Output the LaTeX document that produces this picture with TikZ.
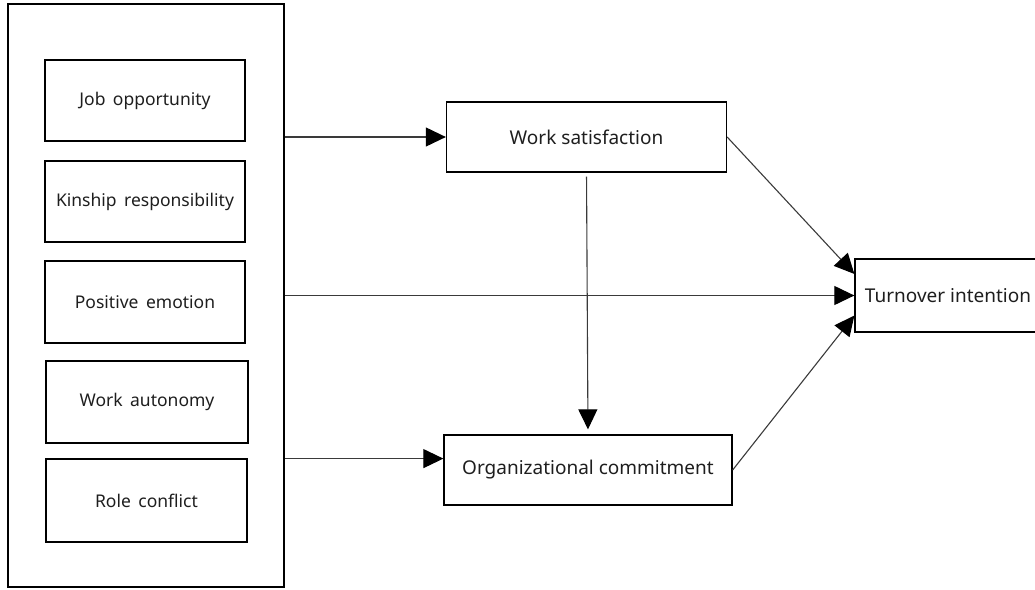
\documentclass[tikz,border=0pt]{standalone}
\usepackage{fontspec}
\setmainfont{Noto Sans}
\usetikzlibrary{arrows.meta,calc}
\definecolor{linegray}{HTML}{3A3A3A}
\definecolor{txt}{HTML}{1E1E1E}
\tikzset{
  box/.style={draw=black, line width=1.3pt, inner sep=0pt, text=txt},
  leftbox/.style={box, font=\fontsize{17.5}{20}\selectfont},
  rightbox/.style={box, font=\fontsize{19}{22}\selectfont},
  arr/.style={draw=linegray, line width=1.1pt, -{Triangle[length=20pt,width=19pt,color=black,fill=black]}},
  ln/.style={draw=linegray, line width=1.1pt}
}
\begin{document}
\begin{tikzpicture}[x=1pt,y=-1pt]
\useasboundingbox (0,0) rectangle (1035,589);
\node[box, minimum width=276pt, minimum height=583pt] (outer) at (146,295.5) {};
\node[leftbox, minimum width=200pt, minimum height=81pt] (job) at (145,100.5) {Job\, opportunity};
\node[leftbox, minimum width=200pt, minimum height=81pt] (kin) at (145,201.5) {Kinship\, responsibility};
\node[leftbox, minimum width=200pt, minimum height=82pt] (pos) at (145,302) {Positive\, emotion};
\node[leftbox, minimum width=202pt, minimum height=82pt] (aut) at (147,402) {Work\, autonomy};
\node[leftbox, minimum width=201pt, minimum height=83pt] (role) at (146.5,500.5) {Role\, conflict};
\node[rightbox, minimum width=280pt, minimum height=70pt] (ws) at (586.5,137) {Work satisfaction};
\node[rightbox, minimum width=288pt, minimum height=70pt] (oc) at (588,470) {Organizational commitment};
\node[rightbox, minimum width=186pt, minimum height=73pt] (to) at (948,295.5) {Turnover intention};
\coordinate (ocin) at ($(oc.north west)!0.34!(oc.south west)$);
\coordinate (totop) at ($(to.north west)!0.21!(to.south west)$);
\coordinate (tobot) at ($(to.north west)!0.77!(to.south west)$);
\draw[arr] (outer.east |- ws.west) -- (ws.west);
\draw[arr] (outer.east |- to.west) -- (to.west);
\draw[arr] (outer.east |- ocin) -- (ocin);
\draw[arr, shorten <=4pt, shorten >=5pt] (ws.south) -- (oc.north);
\draw[arr] (ws.east) -- (totop);
\draw[arr] (oc.east) -- (tobot);
\end{tikzpicture}
\end{document}
